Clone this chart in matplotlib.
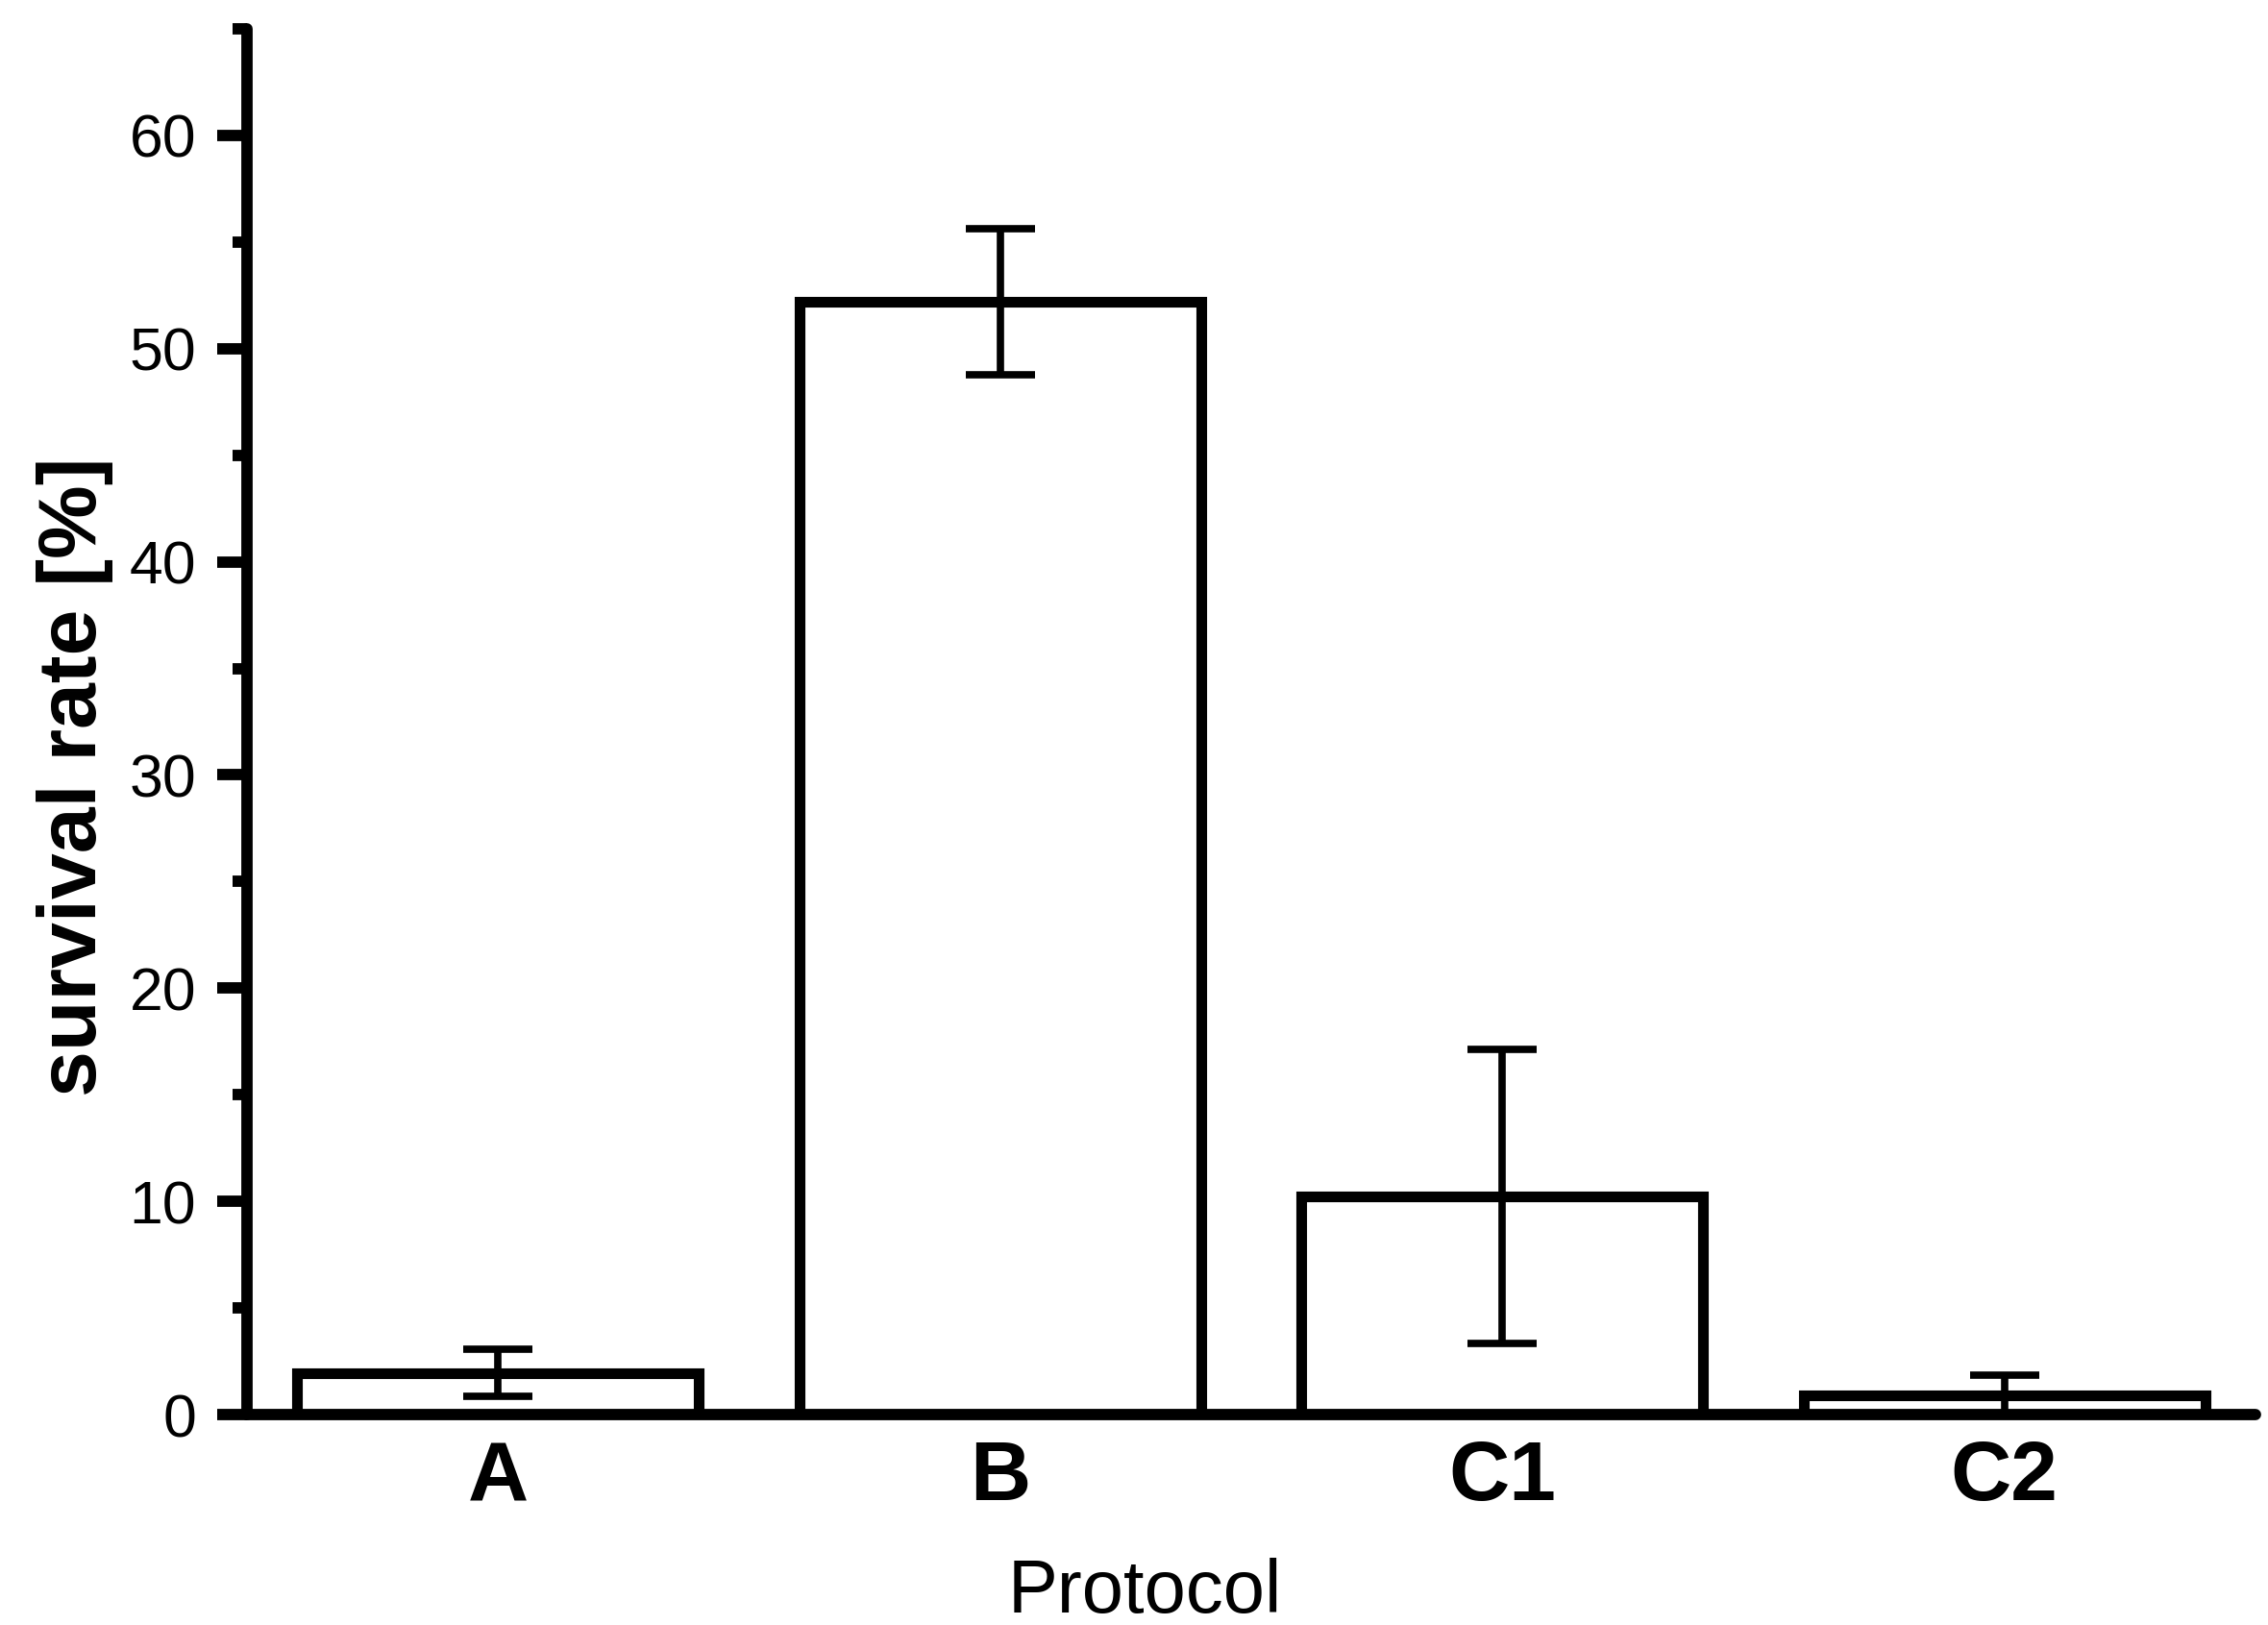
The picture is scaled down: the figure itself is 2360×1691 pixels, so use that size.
import matplotlib
matplotlib.use("Agg")
import matplotlib.pyplot as plt
from matplotlib.ticker import MultipleLocator

plt.rcParams['font.family'] = ['Liberation Sans', 'DejaVu Sans']

# data
protocols = ["A", "B", "C1", "C2"]
survival = [1.95, 52.2, 10.25, 0.9]
errors = [1.1, 3.43, 6.9, 0.95]

fig = plt.figure(figsize=(23.6, 16.91), dpi=100)
ax = fig.add_axes([0.1089, 0.1295, 0.8856, 0.8528])

x = list(range(len(protocols)))

# barras brancas com borda preta grossa
ax.bar(x, survival, width=0.8, color="white", edgecolor="black",
       linewidth=8, zorder=1)
ax.errorbar(x, survival, yerr=errors, fmt="none", ecolor="black",
            elinewidth=5.5, capsize=26, capthick=5.5, zorder=3)

ax.set_xlim(-0.5, 3.5)
ax.set_ylim(0, 65)

# eixos
for side in ["top", "right"]:
    ax.spines[side].set_visible(False)
for side in ["left", "bottom"]:
    ax.spines[side].set_linewidth(8.5)
    ax.spines[side].set_capstyle("round")

ax.yaxis.set_major_locator(MultipleLocator(10))
ax.yaxis.set_minor_locator(MultipleLocator(5))
ax.tick_params(axis="y", which="major", direction="out", length=22,
               width=8.5, pad=16, labelsize=45)
ax.tick_params(axis="y", which="minor", direction="out", length=11,
               width=8.5)
for t in ax.yaxis.get_ticklines(minor=False) + ax.yaxis.get_ticklines(minor=True):
    t.set_solid_capstyle("round")

ax.set_xticks(x)
ax.set_xticklabels(protocols, fontweight="bold")
ax.tick_params(axis="x", which="both", length=0, pad=19, labelsize=63)

ax.set_xlabel("Protocol", fontsize=56)
ax.xaxis.label.set_va("baseline")
ax.xaxis.set_label_coords(0.447, -0.1429)

ax.set_ylabel("survival rate [%]", fontsize=62, fontweight="bold")
ax.yaxis.label.set_va("center")
ax.yaxis.label.set_ha("center")
ax.yaxis.set_label_coords(-0.0856, 0.46)

fig.savefig("out.png", dpi=100)
plt.close(fig)
